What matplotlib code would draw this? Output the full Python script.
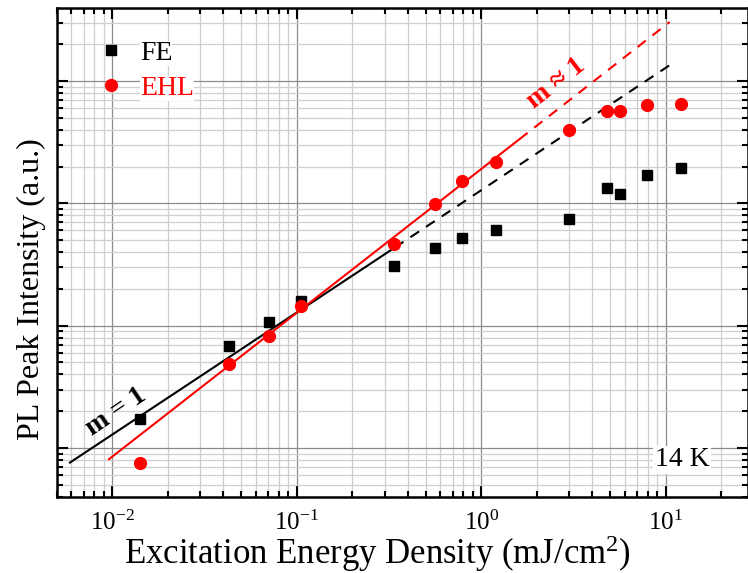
import matplotlib
matplotlib.use("Agg")
import matplotlib.pyplot as plt
from matplotlib.ticker import LogLocator, NullFormatter

plt.rcParams['font.family'] = ['Liberation Serif', 'DejaVu Serif']
plt.rcParams['mathtext.fontset'] = 'custom'
plt.rcParams['mathtext.rm'] = 'Liberation Serif'
plt.rcParams['mathtext.it'] = 'Liberation Serif:italic'
plt.rcParams['mathtext.bf'] = 'Liberation Serif:bold'

# excitation energy density (mJ/cm^2), same for both series
energy = [0.0142, 0.0427, 0.0708, 0.106, 0.336, 0.562, 0.789, 1.20, 3.0, 4.8, 5.65, 7.95, 12.1]
fe = [1.73, 6.8, 10.7, 15.8, 30.8, 43, 52.5, 61, 75, 134, 119, 169, 193]
ehl = [0.75, 4.9, 8.3, 14.6, 46.5, 98, 151, 217, 394, 567, 570, 631, 647]

# power-law guide lines (start, end of solid part, end of dashed part)
fe_fit_x = [0.0059, 0.34, 11.0]
fe_fit_y = [0.76, 43.5, 1410]
ehl_fit_x = [0.0096, 1.61, 10.5]
ehl_fit_y = [0.81, 334, 3036]

fig = plt.figure(figsize=(7.48, 5.73), dpi=100)
ax = fig.add_axes([0.0758, 0.1332, 0.9245, 0.8528])
ax.set_xscale('log')
ax.set_yscale('log')
ax.set_xlim(0.005, 28)
ax.set_ylim(0.4, 3950)

# guide lines
ax.plot(fe_fit_x[:2], fe_fit_y[:2], color='black', lw=1.5, zorder=3)
ax.plot(fe_fit_x[1:], fe_fit_y[1:], color='black', lw=1.5, dashes=(5, 4), zorder=3)
ax.plot(ehl_fit_x[:2], ehl_fit_y[:2], color='red', lw=1.5, zorder=3)
ax.plot(ehl_fit_x[1:], ehl_fit_y[1:], color='red', lw=1.5, dashes=(5, 4), zorder=3)

# data
ax.plot(energy, fe, 's', color='black', ms=7.5, ls='none', label='FE', zorder=4)
ax.plot(energy, ehl, 'o', color='red', ms=8.5, ls='none', label='EHL', zorder=4)

# grid
ax.grid(True, which='major', color='#8c8c8c', lw=0.9)
ax.grid(True, which='minor', color='#cfcfcf', lw=0.9)
ax.set_axisbelow(True)

ax.xaxis.set_major_locator(LogLocator(base=10, numticks=20))
ax.xaxis.set_minor_locator(LogLocator(base=10, subs=range(2, 10), numticks=20))
ax.yaxis.set_major_locator(LogLocator(base=10, numticks=20))
ax.yaxis.set_minor_locator(LogLocator(base=10, subs=range(2, 10), numticks=20))
ax.yaxis.set_major_formatter(NullFormatter())
ax.yaxis.set_minor_formatter(NullFormatter())

ax.tick_params(which='both', direction='in', top=True, right=True, width=1.5)
ax.tick_params(which='major', length=8, labelsize=18, pad=10)
ax.tick_params(which='minor', length=4)
for s in ax.spines.values():
    s.set_linewidth(1.8)

ax.set_xlabel('Excitation Energy Density (mJ/cm$^2$)', fontsize=25, labelpad=-1, x=0.464)
ax.set_ylabel('PL Peak Intensity (a.u.)', fontsize=23)
ax.yaxis.set_label_coords(-0.016, 0.425)

# annotations
ax.text(0.0105, 1.97, 'm = 1', fontsize=20, fontweight='bold', rotation=34,
        ha='center', va='center', color='black')
ax.text(2.56, 964, 'm ≈ 1', fontsize=20, fontweight='bold', rotation=38,
        ha='center', va='center', color='red')
ax.text(12.25, 0.8, '14 K', fontsize=20, ha='center', va='center',
        bbox=dict(facecolor='white', edgecolor='none', pad=1))

leg = ax.legend(loc='upper left', bbox_to_anchor=(0.03, 0.985), frameon=False,
                fontsize=20, handlelength=0.6, handletextpad=0.75, labelspacing=0.35,
                labelcolor='markerfacecolor')
for t in leg.get_texts():
    t.set_bbox(dict(facecolor='white', edgecolor='none', pad=0))

fig.savefig('out.png', dpi=100)
